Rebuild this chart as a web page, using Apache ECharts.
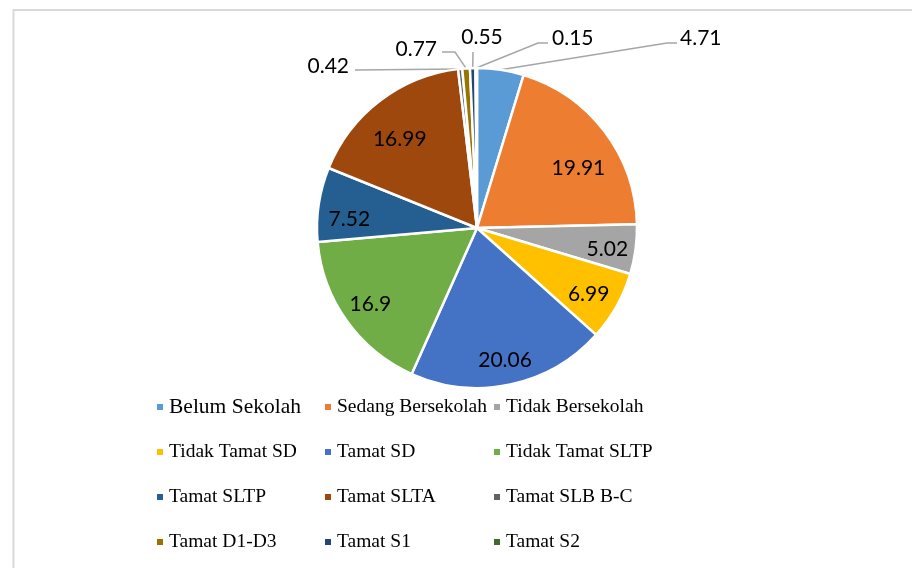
<!DOCTYPE html>
<html>
<head>
<meta charset="utf-8">
<script src="https://cdn.jsdelivr.net/npm/echarts@6/dist/echarts.min.js"></script>
<style>
html, body { margin: 0; padding: 0; background: #fff; }
#chart { width: 912px; height: 568px; }
</style>
</head>
<body>
<div id="chart"></div>
<script>
var categories = ['Belum Sekolah', 'Sedang Bersekolah', 'Tidak Bersekolah', 'Tidak Tamat SD', 'Tamat SD',
  'Tidak Tamat SLTP', 'Tamat SLTP', 'Tamat SLTA', 'Tamat SLB B-C', 'Tamat D1-D3', 'Tamat S1', 'Tamat S2']
var values = [4.71, 19.91, 5.02, 6.99, 20.06, 16.9, 7.52, 16.99, 0.42, 0.77, 0.55, 0.15]
var colors = ['#5b9bd5', '#ed7d31', '#a5a5a5', '#ffc000', '#4472c4', '#70ad47',
  '#255e91', '#9e480e', '#636363', '#997300', '#264478', '#43682b']

// pie geometry
var cx = 477
var cy = 228
var r = 160

// inside labels: [distance from centre, angle shift in degrees] (excel "best fit")
var insideLayout = {
  1: [118, 6.5], 2: [132, 1.5], 3: [130, 1.5], 4: [135, 0],
  5: [131, 0], 6: [128, -4.5], 7: [118, -3.5]
}
// leader lines for the small slices
var outsideLabels = {
  0: { line: [[667, 43], [677, 43]], x: 680, y: 38, align: 'left' },
  11: { line: [[538, 43], [548, 43]], x: 552, y: 38, align: 'left' },
  10: { line: [[473, 52]], x: 482, y: 37, align: 'center' },
  9: { line: [[455, 52], [442, 52]], x: 437, y: 49, align: 'right' },
  8: { line: [[355, 70]], x: 349, y: 66, align: 'right' }
}

var total = values.reduce(function (a, b) { return a + b }, 0)
var midAngles = []
var acc = 0
values.forEach(function (v) {
  midAngles.push((acc + v / 2) / total * Math.PI * 2)
  acc += v
})

var pieData = categories.map(function (name, i) {
  var item = { name: name, value: values[i], itemStyle: { color: colors[i] } }
  if (outsideLabels[i]) {
    item.label = { position: 'outside' }
    item.labelLine = { show: true }
  }
  return item
})

function legendColumn (left, idx) {
  return {
    orient: 'vertical',
    left: left,
    top: 395,
    padding: 0,
    itemGap: 21,
    itemWidth: 8,
    itemHeight: 8,
    icon: 'rect',
    textStyle: { fontFamily: 'Liberation Serif', fontSize: 19.5, color: '#000', lineHeight: 24 },
    data: idx.map(function (i) {
      var d = { name: categories[i] }
      if (i === 0) d.textStyle = { fontSize: 21.5 }
      return d
    })
  }
}

var myChart = echarts.init(document.getElementById('chart'))
myChart.setOption({
  animation: false,
  backgroundColor: '#fff',
  graphic: [{
    type: 'rect',
    shape: { x: 13.5, y: 10, width: 1000, height: 700 },
    style: { fill: 'none', stroke: '#d9d9d9', lineWidth: 2 },
    silent: true
  }],
  legend: [
    legendColumn(155, [0, 3, 6, 9]),
    legendColumn(323, [1, 4, 7, 10]),
    legendColumn(492, [2, 5, 8, 11])
  ],
  series: [{
    type: 'pie',
    center: [cx, cy],
    radius: r,
    startAngle: 90,
    clockwise: true,
    avoidLabelOverlap: false,
    itemStyle: { borderColor: '#fff', borderWidth: 2.5 },
    label: {
      show: true,
      position: 'inside',
      formatter: '{c}',
      fontFamily: 'Lato',
      fontSize: 21,
      color: '#000'
    },
    labelLine: {
      show: false,
      lineStyle: { color: '#a6a6a6', width: 1.5 }
    },
    emphasis: { disabled: true },
    labelLayout: function (params) {
      var i = params.dataIndex
      var a = midAngles[i]
      var o = outsideLabels[i]
      if (o) {
        var start = params.labelLinePoints ? params.labelLinePoints[0] : [cx + r * Math.sin(a), cy - r * Math.cos(a)]
        return {
          x: o.x,
          y: o.y,
          align: o.align,
          verticalAlign: 'middle',
          labelLinePoints: [start].concat(o.line)
        }
      }
      var d = insideLayout[i][0]
      var b = a + insideLayout[i][1] * Math.PI / 180
      return {
        x: cx + d * Math.sin(b),
        y: cy - d * Math.cos(b),
        align: 'center',
        verticalAlign: 'middle'
      }
    },
    data: pieData
  }]
})
</script>
</body>
</html>
